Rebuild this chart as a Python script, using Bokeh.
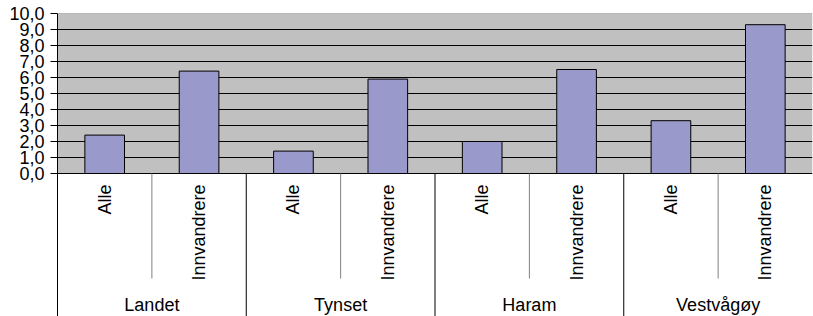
import math
from bokeh.plotting import figure
from bokeh.models import Range1d, FixedTicker
from bokeh.core.properties import value
from bokeh.embed import file_html
from bokeh.resources import INLINE

# ---- data ----
groups = ["Landet", "Tynset", "Haram", "Vestvågøy"]
subcats = ["Alle", "Innvandrere"]
values_alle = [2.4, 1.4, 2.0, 3.3]
values_innv = [6.4, 5.9, 6.5, 9.3]
yticks = [0, 1, 2, 3, 4, 5, 6, 7, 8, 9, 10]
ytick_labels = ["0,0", "1,0", "2,0", "3,0", "4,0", "5,0", "6,0", "7,0", "8,0", "9,0", "10,0"]

# ---- layout (pixels) ----
W, H = 813, 316
top_b, left_b, right_b, bot_b = 13, 57, 1, 0
frame_h = H - top_b - bot_b
ymax = 10
px_per_unit = 16.0
ymin = ymax - frame_h / px_per_unit
def py(px_below_zero):
    return -px_below_zero / px_per_unit

FONT = value("Liberation Sans")

n = len(groups) * len(subcats)
p = figure(width=W, height=H, output_backend="svg", toolbar_location=None,
           x_range=Range1d(0, n), y_range=Range1d(ymin, ymax),
           min_border_top=top_b, min_border_left=left_b,
           min_border_right=right_b, min_border_bottom=bot_b)
p.xaxis.visible = False
p.xgrid.visible = False
p.ygrid.visible = False
p.outline_line_color = None
p.background_fill_color = "white"
p.border_fill_color = "white"

yax = p.yaxis[0]
yax.ticker = FixedTicker(ticks=yticks)
yax.major_label_overrides = {t: l for t, l in zip(yticks, ytick_labels)}
yax.minor_tick_line_color = None
yax.major_tick_in = 0
yax.major_tick_out = 7
yax.major_label_standoff = 6
yax.major_label_text_font = "Liberation Sans"
yax.major_label_text_font_size = "18px"
yax.major_label_text_color = "black"
yax.axis_line_color = "black"
yax.major_tick_line_color = "black"

# grey plot area
p.quad(left=[0], right=[n], bottom=[0], top=[ymax], fill_color="#C0C0C0", line_color=None)
# gridlines
grid_y = [t for t in yticks if t != ymax]
p.segment(x0=[0] * len(grid_y), x1=[n] * len(grid_y), y0=grid_y, y1=grid_y,
          line_color="black", line_width=1)
p.segment(x0=[0], x1=[n], y0=[ymax], y1=[ymax], line_color="#808080", line_width=1)

# bars
xs, tops, subs, grp_x = [], [], [], []
for gi, g in enumerate(groups):
    for si, s in enumerate(subcats):
        xs.append(gi * len(subcats) + si + 0.5)
        tops.append(values_alle[gi] if si == 0 else values_innv[gi])
        subs.append(s)
    grp_x.append(gi * len(subcats) + len(subcats) / 2)
p.vbar(x=xs, top=tops, bottom=0, width=0.42, fill_color="#9999CC",
       line_color="black", line_width=1)

# separators
sub_sep = [gi * 2 + 1 for gi in range(len(groups))]
p.segment(x0=sub_sep, x1=sub_sep, y0=[0] * len(sub_sep), y1=[py(105)] * len(sub_sep),
          line_color="#808080", line_width=1)
grp_sep = [gi * 2 for gi in range(1, len(groups))]
p.segment(x0=grp_sep, x1=grp_sep, y0=[0] * len(grp_sep), y1=[ymin] * len(grp_sep),
          line_color="black", line_width=1)

# labels
p.text(x=xs, y=[py(11)] * len(xs), text=subs, angle=math.pi / 2,
       text_align="right", text_baseline="middle", text_font=FONT,
       text_font_size="18px", text_color="black")
p.text(x=grp_x, y=[py(131)] * len(grp_x), text=groups,
       text_align="center", text_baseline="middle", text_font=FONT,
       text_font_size="18px", text_color="black")

open("out.html", "w").write(file_html(p, INLINE))
